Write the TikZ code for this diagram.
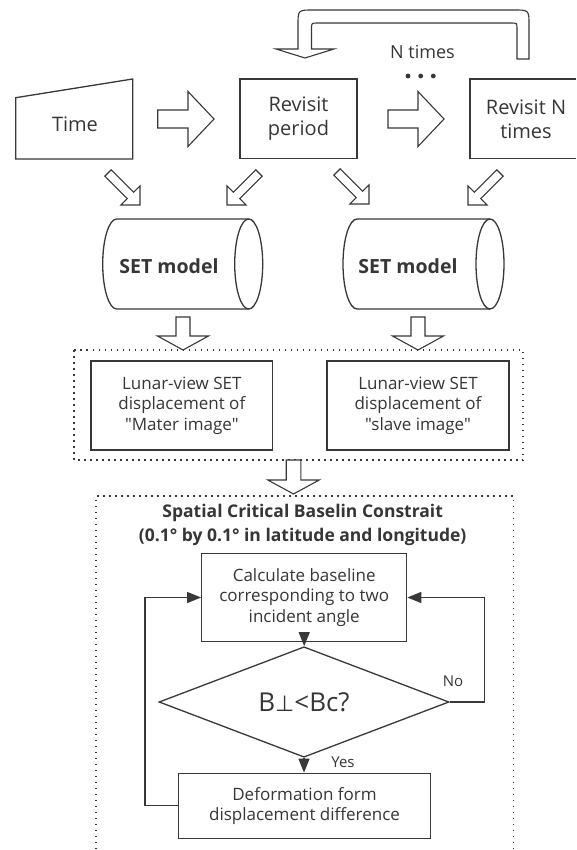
\documentclass[tikz,border=0pt]{standalone}
\usepackage{fontspec}
\setmainfont{Open Sans}[Ligatures=TeXOff]
\newfontfamily\symfont{DejaVu Sans}
\usetikzlibrary{arrows.meta,shapes.geometric,calc}
\definecolor{linec}{HTML}{383838}
\definecolor{txtc}{HTML}{363636}
\newcommand\harrow[5]{%
 \draw[blk] let \p1=(#1), \p2=(#2), \n1={atan2(\y2-\y1,\x2-\x1)}, \n2={veclen(\x2-\x1,\y2-\y1)} in
 [shift={(\x1,\y1)}, rotate=\n1]
 (0,-#3) -- (\n2-#5,-#3) -- (\n2-#5,-#4) -- (\n2,0) -- (\n2-#5,#4) -- (\n2-#5,#3) -- (0,#3) -- cycle;}
\begin{document}
\begin{tikzpicture}[x=1pt,y=-1pt,
 blk/.style={draw=linec, line width=1.1pt, fill=white, line join=miter},
 shp/.style={draw=linec, line width=1.3pt},
 box/.style={draw=linec, line width=1.3pt, rectangle, inner sep=0pt, align=center, text=txtc},
 lbl/.style={text=txtc, inner sep=0pt, align=center},
 dotbox/.style={draw=linec, line width=1.5pt, dash pattern=on 1.5pt off 4.5pt},
 flow/.style={draw=linec, line width=1.3pt, -{Triangle[length=14pt,width=11pt]}},
 big/.style={font=\fontsize{20}{24}\selectfont},
 mid/.style={font=\fontsize{17}{20.5}\selectfont},
]
\useasboundingbox (0,0) rectangle (576,850);
\fill[white] (0,0) rectangle (576,850);

% top row
\draw[shp] (15.7,97.7) -- (132.7,79) -- (132.7,159) -- (15.7,159) -- cycle;
\node[lbl, big] (time) at (75,124) {Time};
\node[box, big, minimum width=117pt, minimum height=79.5pt] (rev) at (298.5,118.75) {Revisit\\period};
\draw[shp] (576,79) -- (470,79) -- (470,158.5) -- (576,158.5);
\node[lbl, big] (revN) at (526,119) {Revisit N\\times};
\node[lbl, font=\fontsize{18}{22}\selectfont] (ntimes) at (422.5,52) {N times};
\fill[linec] (408,76) circle (2.4pt) (420.7,76) circle (2.4pt) (433.3,76) circle (2.4pt);

% horizontal hollow arrows
\coordinate (a1s) at (157.7,119); \coordinate (a1e) at (214,119);
\coordinate (a2s) at (388,119); \coordinate (a2e) at (444,119);
\harrow{a1s}{a1e}{9}{27.5}{26}
\harrow{a2s}{a2e}{9}{27.5}{26}

% loop arrow
\draw[blk] (529,59) -- (529,25) .. controls (529,10) .. (514,10) -- (313,10) .. controls (298,10) .. (298,25)
 -- (298,49) -- (276,49) -- (305,58) -- (334,49) -- (311.5,49) -- (311.5,29) .. controls (311.5,23) .. (317.5,23)
 -- (511,23) .. controls (517,23) .. (517,29) -- (517,59) -- cycle;

% diagonal hollow arrows
\coordinate (d1s) at (108,173); \coordinate (d1e) at (140,205);
\coordinate (d2s) at (259,173); \coordinate (d2e) at (227,205);
\coordinate (d3s) at (337,172); \coordinate (d3e) at (369,204);
\coordinate (d4s) at (500,173); \coordinate (d4e) at (468,205);
\harrow{d1s}{d1e}{4.5}{13.5}{13.5}
\harrow{d2s}{d2e}{4.5}{13.5}{13.5}
\harrow{d3s}{d3e}{4.5}{13.5}{13.5}
\harrow{d4s}{d4e}{4.5}{13.5}{13.5}

% cylinders
\draw[shp] (248.7,219) -- (116.7,219) arc[start angle=90, end angle=270, x radius=14pt, y radius=45pt]
 -- (248.7,309) arc[start angle=-90, end angle=90, x radius=14pt, y radius=45pt] -- cycle;
\draw[shp] (248.7,219) arc[start angle=90, end angle=270, x radius=14pt, y radius=45pt];
\node[lbl, font=\bfseries\fontsize{19.5}{23}\selectfont] (cylL) at (169,266.5) {SET model};
\draw[shp] (490,219) -- (357,219) arc[start angle=90, end angle=270, x radius=14pt, y radius=45pt]
 -- (490,309) arc[start angle=-90, end angle=90, x radius=14pt, y radius=45pt] -- cycle;
\draw[shp] (490,219) arc[start angle=90, end angle=270, x radius=14pt, y radius=45pt];
\node[lbl, font=\bfseries\fontsize{19.5}{23}\selectfont] (cylR) at (408,266.5) {SET model};

% down arrows
\coordinate (v1s) at (183,317); \coordinate (v1e) at (183,350);
\coordinate (v2s) at (418,317); \coordinate (v2e) at (418,350);
\harrow{v1s}{v1e}{7}{25.5}{14}
\harrow{v2s}{v2e}{7}{25.5}{14}

% dotted group 1
\draw[dotbox] (74,350) rectangle (523,460);
\node[box, mid, minimum width=181.7pt, minimum height=89pt] (lunL) at (181.85,405.5) {Lunar-view SET\\displacement of\\"Mater image"};
\node[box, mid, minimum width=182pt, minimum height=89pt] (lunR) at (418,405.5) {Lunar-view SET\\displacement of\\"slave image"};

\coordinate (v3s) at (293.5,460); \coordinate (v3e) at (293.5,494);
\harrow{v3s}{v3e}{7.3}{25.7}{14}

% dotted group 2
\draw[dotbox] (96,855) -- (96,496) -- (513.3,496) -- (513.3,855);
\node[lbl, font=\bfseries\fontsize{17.5}{24}\selectfont] (title) at (302.7,524.5) {Spatial Critical Baselin Constrait\\(0.1° by 0.1° in latitude and longitude)};

\node[box, mid, minimum width=205pt, minimum height=88.4pt] (calc) at (304.2,597.5) {Calculate baseline\\corresponding to two\\incident angle};
\node[draw=linec, line width=1.3pt, diamond, inner sep=0pt, minimum width=290pt, minimum height=64pt, text=txtc,
 font=\fontsize{26}{30}\selectfont] (dia) at (304,702) {B{\symfont\fontsize{22}{26}\selectfont ⊥}<Bc?};
\node[box, mid, minimum width=252.4pt, minimum height=65pt] (deform) at (304.5,805.8) {Deformation form\\displacement difference};

\coordinate (nocorner) at (484.3,597.5);
\coordinate (loopcorner) at (145,597.5);
\draw[flow] (calc.south) -- (calc.south |- dia.north);
\draw[flow] (dia.south) -- (dia.south |- deform.north);
\draw[flow] (dia.east) -| (nocorner) -- (calc.east);
\draw[flow] (deform.west) -| (loopcorner) -- (calc.west);
\node[lbl, font=\fontsize{15}{18}\selectfont] (no) at (453,681.7) {No};
\node[lbl, font=\fontsize{15}{18}\selectfont] (yes) at (343,762.7) {Yes};
\end{tikzpicture}
\end{document}
